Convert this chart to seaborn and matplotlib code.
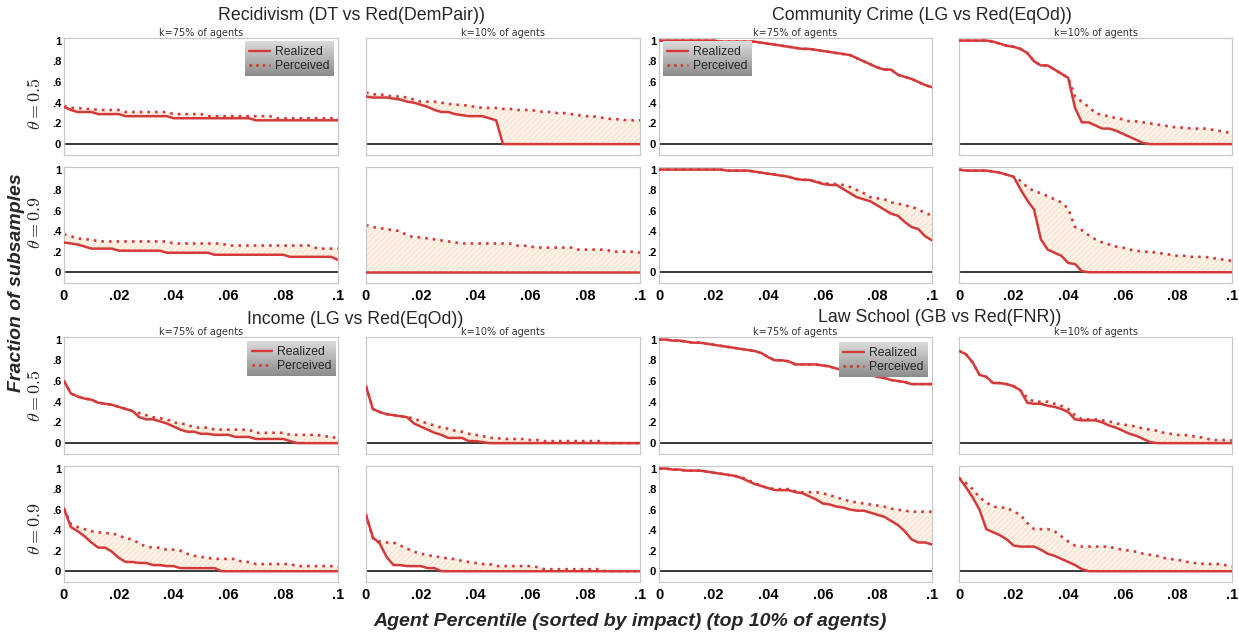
import numpy as np
import matplotlib
matplotlib.use("Agg")
import matplotlib.pyplot as plt
from matplotlib.lines import Line2D
import seaborn as sns

# ---------------------------------------------------------------- data
# agent percentile grid (top 10% of agents, sorted by impact)
agent_pct = np.linspace(0.0, 0.1, 41)

x_tick_values = [0, 0.02, 0.04, 0.06, 0.08, 0.1]
x_tick_labels = ["0", ".02", ".04", ".06", ".08", ".1"]
y_tick_values = [0, 0.2, 0.4, 0.6, 0.8, 1.0]
y_tick_labels = ["0", ".2", ".4", ".6", ".8", "1"]

dataset_titles = ["Recidivism (DT vs Red(DemPair))", "Community Crime (LG vs Red(EqOd))",
                  "Income (LG vs Red(EqOd))", "Law School (GB vs Red(FNR))"]
k_labels = ["k=75% of agents", "k=10% of agents"]
theta_labels = [r"$\theta = 0.5$", r"$\theta = 0.9$"]
series_labels = ["Realized", "Perceived"]

# Recidivism
rec_t05_k75_real = [0.36, 0.33, 0.31, 0.31, 0.31, 0.29, 0.29, 0.29, 0.29, 0.27,
                    0.27, 0.27, 0.27, 0.27, 0.27, 0.27, 0.25, 0.25, 0.25, 0.25,
                    0.25, 0.25, 0.25, 0.25, 0.25, 0.25, 0.25, 0.25, 0.23, 0.23,
                    0.23, 0.23, 0.23, 0.23, 0.23, 0.23, 0.23, 0.23, 0.23, 0.23,
                    0.23]
rec_t05_k75_perc = [0.37, 0.35, 0.35, 0.34, 0.34, 0.33, 0.33, 0.33, 0.33, 0.31,
                    0.31, 0.31, 0.31, 0.31, 0.31, 0.31, 0.29, 0.29, 0.29, 0.29,
                    0.29, 0.27, 0.27, 0.27, 0.27, 0.27, 0.27, 0.27, 0.27, 0.27,
                    0.27, 0.25, 0.25, 0.25, 0.25, 0.25, 0.25, 0.25, 0.25, 0.25,
                    0.25]
rec_t05_k10_real = [0.46, 0.45, 0.45, 0.45, 0.44, 0.43, 0.41, 0.40, 0.38, 0.36,
                    0.33, 0.31, 0.31, 0.29, 0.28, 0.27, 0.27, 0.27, 0.25, 0.23,
                    0.0, 0.0, 0.0, 0.0, 0.0, 0.0, 0.0, 0.0, 0.0, 0.0,
                    0.0, 0.0, 0.0, 0.0, 0.0, 0.0, 0.0, 0.0, 0.0, 0.0,
                    0.0]
rec_t05_k10_perc = [0.50, 0.48, 0.48, 0.47, 0.46, 0.46, 0.45, 0.43, 0.41, 0.41,
                    0.41, 0.40, 0.39, 0.38, 0.38, 0.37, 0.36, 0.35, 0.35, 0.35,
                    0.34, 0.34, 0.33, 0.33, 0.33, 0.32, 0.31, 0.31, 0.30, 0.30,
                    0.29, 0.28, 0.27, 0.27, 0.26, 0.25, 0.24, 0.24, 0.23, 0.23,
                    0.23]
rec_t09_k75_real = [0.29, 0.28, 0.27, 0.25, 0.23, 0.23, 0.23, 0.23, 0.21, 0.21,
                    0.21, 0.21, 0.21, 0.21, 0.21, 0.19, 0.19, 0.19, 0.19, 0.19,
                    0.19, 0.19, 0.17, 0.17, 0.17, 0.17, 0.17, 0.17, 0.17, 0.17,
                    0.17, 0.17, 0.17, 0.15, 0.15, 0.15, 0.15, 0.15, 0.15, 0.15,
                    0.12]
rec_t09_k75_perc = [0.37, 0.35, 0.33, 0.32, 0.32, 0.30, 0.30, 0.30, 0.30, 0.30,
                    0.30, 0.30, 0.30, 0.30, 0.30, 0.30, 0.28, 0.28, 0.28, 0.28,
                    0.28, 0.28, 0.28, 0.28, 0.26, 0.26, 0.26, 0.26, 0.26, 0.26,
                    0.26, 0.26, 0.26, 0.26, 0.26, 0.26, 0.26, 0.23, 0.23, 0.23,
                    0.23]
rec_t09_k10_real = [0.0, 0.0, 0.0, 0.0, 0.0, 0.0, 0.0, 0.0, 0.0, 0.0,
                    0.0, 0.0, 0.0, 0.0, 0.0, 0.0, 0.0, 0.0, 0.0, 0.0,
                    0.0, 0.0, 0.0, 0.0, 0.0, 0.0, 0.0, 0.0, 0.0, 0.0,
                    0.0, 0.0, 0.0, 0.0, 0.0, 0.0, 0.0, 0.0, 0.0, 0.0,
                    0.0]
rec_t09_k10_perc = [0.46, 0.44, 0.43, 0.42, 0.41, 0.40, 0.36, 0.34, 0.34, 0.33,
                    0.32, 0.31, 0.30, 0.29, 0.28, 0.28, 0.28, 0.28, 0.28, 0.28,
                    0.28, 0.28, 0.26, 0.26, 0.25, 0.24, 0.24, 0.24, 0.24, 0.24,
                    0.24, 0.22, 0.22, 0.22, 0.22, 0.22, 0.20, 0.20, 0.20, 0.20,
                    0.19]

# Community Crime
cc_t05_k75_real = [1.0, 1.0, 1.0, 1.0, 1.0, 1.0, 1.0, 1.0, 1.0, 0.99,
                   0.99, 0.99, 0.99, 0.99, 0.99, 0.98, 0.97, 0.96, 0.95, 0.94,
                   0.93, 0.92, 0.92, 0.91, 0.90, 0.89, 0.88, 0.87, 0.86, 0.83,
                   0.80, 0.77, 0.74, 0.72, 0.72, 0.67, 0.65, 0.63, 0.60, 0.57,
                   0.55]
cc_t05_k75_perc = [1.0, 1.0, 1.0, 1.0, 1.0, 1.0, 1.0, 1.0, 1.0, 0.99,
                   0.99, 0.99, 0.99, 0.99, 0.99, 0.98, 0.97, 0.96, 0.95, 0.94,
                   0.93, 0.92, 0.92, 0.91, 0.90, 0.89, 0.88, 0.87, 0.86, 0.83,
                   0.80, 0.77, 0.74, 0.72, 0.72, 0.67, 0.65, 0.63, 0.60, 0.57,
                   0.55]
cc_t05_k10_real = [1.0, 1.0, 1.0, 1.0, 1.0, 0.99, 0.97, 0.95, 0.94, 0.92,
                   0.88, 0.80, 0.76, 0.76, 0.72, 0.68, 0.64, 0.35, 0.21, 0.21,
                   0.18, 0.15, 0.15, 0.13, 0.10, 0.07, 0.04, 0.01, 0.0, 0.0,
                   0.0, 0.0, 0.0, 0.0, 0.0, 0.0, 0.0, 0.0, 0.0, 0.0,
                   0.0]
cc_t05_k10_perc = [1.0, 1.0, 1.0, 1.0, 1.0, 0.99, 0.97, 0.95, 0.94, 0.92,
                   0.88, 0.80, 0.76, 0.76, 0.72, 0.68, 0.64, 0.46, 0.41, 0.36,
                   0.30, 0.28, 0.27, 0.25, 0.24, 0.22, 0.22, 0.21, 0.20, 0.19,
                   0.18, 0.17, 0.16, 0.16, 0.15, 0.15, 0.15, 0.14, 0.13, 0.12,
                   0.10]
cc_t09_k75_real = [1.0, 1.0, 1.0, 1.0, 1.0, 1.0, 1.0, 1.0, 1.0, 1.0,
                   0.99, 0.99, 0.99, 0.99, 0.98, 0.97, 0.96, 0.95, 0.94, 0.93,
                   0.91, 0.90, 0.90, 0.88, 0.86, 0.85, 0.85, 0.81, 0.77, 0.73,
                   0.71, 0.69, 0.65, 0.61, 0.57, 0.55, 0.49, 0.44, 0.42, 0.35,
                   0.31]
cc_t09_k75_perc = [1.0, 1.0, 1.0, 1.0, 1.0, 1.0, 1.0, 1.0, 1.0, 1.0,
                   0.99, 0.99, 0.99, 0.99, 0.98, 0.97, 0.96, 0.95, 0.94, 0.93,
                   0.91, 0.90, 0.90, 0.88, 0.87, 0.86, 0.86, 0.85, 0.83, 0.80,
                   0.77, 0.73, 0.72, 0.71, 0.68, 0.67, 0.65, 0.64, 0.61, 0.58,
                   0.55]
cc_t09_k10_real = [1.0, 0.99, 0.99, 0.99, 0.99, 0.98, 0.97, 0.95, 0.93, 0.81,
                   0.70, 0.61, 0.32, 0.22, 0.19, 0.16, 0.09, 0.08, 0.01, 0.0,
                   0.0, 0.0, 0.0, 0.0, 0.0, 0.0, 0.0, 0.0, 0.0, 0.0,
                   0.0, 0.0, 0.0, 0.0, 0.0, 0.0, 0.0, 0.0, 0.0, 0.0,
                   0.0]
cc_t09_k10_perc = [1.0, 0.99, 0.99, 0.99, 0.99, 0.98, 0.97, 0.95, 0.93, 0.89,
                   0.83, 0.79, 0.77, 0.74, 0.71, 0.68, 0.62, 0.44, 0.41, 0.36,
                   0.32, 0.29, 0.27, 0.25, 0.24, 0.22, 0.21, 0.20, 0.20, 0.19,
                   0.18, 0.17, 0.16, 0.16, 0.15, 0.15, 0.15, 0.14, 0.13, 0.12,
                   0.11]

# Income
inc_t05_k75_real = [0.60, 0.48, 0.45, 0.43, 0.42, 0.39, 0.38, 0.37, 0.35, 0.33,
                    0.31, 0.25, 0.23, 0.23, 0.21, 0.19, 0.16, 0.13, 0.11, 0.11,
                    0.09, 0.09, 0.08, 0.08, 0.08, 0.06, 0.06, 0.06, 0.04, 0.04,
                    0.04, 0.04, 0.04, 0.02, 0.0, 0.0, 0.0, 0.0, 0.0, 0.0,
                    0.0]
inc_t05_k75_perc = [0.60, 0.48, 0.45, 0.43, 0.42, 0.39, 0.38, 0.37, 0.35, 0.33,
                    0.31, 0.29, 0.27, 0.25, 0.24, 0.23, 0.20, 0.19, 0.18, 0.15,
                    0.15, 0.15, 0.13, 0.13, 0.13, 0.13, 0.13, 0.13, 0.10, 0.10,
                    0.10, 0.10, 0.10, 0.08, 0.08, 0.08, 0.08, 0.08, 0.065, 0.065,
                    0.04]
inc_t05_k10_real = [0.55, 0.33, 0.30, 0.28, 0.27, 0.26, 0.25, 0.19, 0.16, 0.13,
                    0.10, 0.08, 0.05, 0.05, 0.05, 0.02, 0.02, 0.01, 0.0, 0.0,
                    0.0, 0.0, 0.0, 0.0, 0.0, 0.0, 0.0, 0.0, 0.0, 0.0,
                    0.0, 0.0, 0.0, 0.0, 0.0, 0.0, 0.0, 0.0, 0.0, 0.0,
                    0.0]
inc_t05_k10_perc = [0.55, 0.33, 0.30, 0.28, 0.27, 0.26, 0.25, 0.24, 0.21, 0.19,
                    0.17, 0.15, 0.14, 0.12, 0.11, 0.09, 0.08, 0.07, 0.05, 0.05,
                    0.04, 0.04, 0.04, 0.04, 0.03, 0.03, 0.02, 0.02, 0.02, 0.02,
                    0.02, 0.02, 0.02, 0.02, 0.02, 0.0, 0.0, 0.0, 0.0, 0.0,
                    0.0]
inc_t09_k75_real = [0.61, 0.43, 0.39, 0.34, 0.28, 0.23, 0.23, 0.19, 0.13, 0.09,
                    0.09, 0.08, 0.08, 0.06, 0.06, 0.05, 0.05, 0.03, 0.03, 0.03,
                    0.03, 0.03, 0.03, 0.0, 0.0, 0.0, 0.0, 0.0, 0.0, 0.0,
                    0.0, 0.0, 0.0, 0.0, 0.0, 0.0, 0.0, 0.0, 0.0, 0.0,
                    0.0]
inc_t09_k75_perc = [0.61, 0.46, 0.43, 0.41, 0.39, 0.38, 0.37, 0.37, 0.35, 0.32,
                    0.31, 0.27, 0.24, 0.23, 0.23, 0.21, 0.21, 0.20, 0.17, 0.15,
                    0.14, 0.13, 0.12, 0.12, 0.12, 0.12, 0.09, 0.09, 0.07, 0.07,
                    0.07, 0.07, 0.07, 0.07, 0.05, 0.05, 0.05, 0.05, 0.05, 0.05,
                    0.04]
inc_t09_k10_real = [0.55, 0.33, 0.27, 0.14, 0.06, 0.06, 0.05, 0.05, 0.05, 0.03,
                    0.03, 0.0, 0.0, 0.0, 0.0, 0.0, 0.0, 0.0, 0.0, 0.0,
                    0.0, 0.0, 0.0, 0.0, 0.0, 0.0, 0.0, 0.0, 0.0, 0.0,
                    0.0, 0.0, 0.0, 0.0, 0.0, 0.0, 0.0, 0.0, 0.0, 0.0,
                    0.0]
inc_t09_k10_perc = [0.55, 0.32, 0.29, 0.28, 0.28, 0.25, 0.22, 0.19, 0.17, 0.16,
                    0.14, 0.14, 0.12, 0.12, 0.10, 0.09, 0.08, 0.07, 0.07, 0.05,
                    0.05, 0.05, 0.05, 0.05, 0.05, 0.04, 0.02, 0.02, 0.02, 0.02,
                    0.02, 0.02, 0.02, 0.02, 0.02, 0.0, 0.0, 0.0, 0.0, 0.0,
                    0.0]

# Law School
law_t05_k75_real = [1.0, 1.0, 0.99, 0.99, 0.98, 0.97, 0.97, 0.96, 0.95, 0.94,
                    0.93, 0.92, 0.91, 0.90, 0.89, 0.87, 0.83, 0.80, 0.80, 0.79,
                    0.76, 0.76, 0.76, 0.76, 0.75, 0.74, 0.72, 0.71, 0.69, 0.68,
                    0.67, 0.66, 0.64, 0.63, 0.61, 0.60, 0.59, 0.57, 0.57, 0.57,
                    0.57]
law_t05_k75_perc = [1.0, 1.0, 0.99, 0.99, 0.98, 0.97, 0.97, 0.96, 0.95, 0.94,
                    0.93, 0.92, 0.91, 0.90, 0.89, 0.87, 0.83, 0.80, 0.80, 0.79,
                    0.76, 0.76, 0.76, 0.76, 0.75, 0.74, 0.72, 0.71, 0.69, 0.68,
                    0.67, 0.66, 0.64, 0.63, 0.61, 0.60, 0.59, 0.57, 0.57, 0.57,
                    0.57]
law_t05_k10_real = [0.89, 0.86, 0.78, 0.66, 0.64, 0.58, 0.58, 0.57, 0.55, 0.51,
                    0.39, 0.38, 0.38, 0.36, 0.35, 0.33, 0.30, 0.23, 0.22, 0.22,
                    0.22, 0.20, 0.17, 0.15, 0.12, 0.09, 0.07, 0.04, 0.01, 0.0,
                    0.0, 0.0, 0.0, 0.0, 0.0, 0.0, 0.0, 0.0, 0.0, 0.0,
                    0.0]
law_t05_k10_perc = [0.89, 0.86, 0.78, 0.66, 0.64, 0.58, 0.58, 0.57, 0.55, 0.51,
                    0.44, 0.40, 0.40, 0.40, 0.38, 0.36, 0.33, 0.27, 0.23, 0.23,
                    0.23, 0.22, 0.21, 0.19, 0.18, 0.17, 0.16, 0.14, 0.13, 0.12,
                    0.10, 0.09, 0.08, 0.08, 0.07, 0.06, 0.05, 0.03, 0.03, 0.03,
                    0.025]
law_t09_k75_real = [1.0, 1.0, 0.99, 0.99, 0.98, 0.98, 0.98, 0.97, 0.96, 0.95,
                    0.94, 0.93, 0.91, 0.88, 0.85, 0.83, 0.81, 0.79, 0.79, 0.79,
                    0.77, 0.76, 0.73, 0.70, 0.66, 0.65, 0.63, 0.62, 0.60, 0.59,
                    0.59, 0.57, 0.55, 0.53, 0.49, 0.45, 0.39, 0.31, 0.28, 0.28,
                    0.26]
law_t09_k75_perc = [1.0, 1.0, 0.99, 0.99, 0.98, 0.98, 0.98, 0.97, 0.96, 0.95,
                    0.94, 0.93, 0.92, 0.89, 0.86, 0.83, 0.81, 0.80, 0.80, 0.80,
                    0.78, 0.77, 0.77, 0.77, 0.76, 0.74, 0.72, 0.70, 0.68, 0.67,
                    0.66, 0.65, 0.64, 0.63, 0.61, 0.60, 0.59, 0.58, 0.58, 0.58,
                    0.58]
law_t09_k10_real = [0.91, 0.82, 0.72, 0.60, 0.41, 0.38, 0.35, 0.31, 0.25, 0.24,
                    0.24, 0.24, 0.21, 0.17, 0.15, 0.12, 0.09, 0.06, 0.02, 0.0,
                    0.0, 0.0, 0.0, 0.0, 0.0, 0.0, 0.0, 0.0, 0.0, 0.0,
                    0.0, 0.0, 0.0, 0.0, 0.0, 0.0, 0.0, 0.0, 0.0, 0.0,
                    0.0]
law_t09_k10_perc = [0.91, 0.86, 0.80, 0.72, 0.67, 0.63, 0.62, 0.62, 0.58, 0.55,
                    0.47, 0.41, 0.41, 0.41, 0.39, 0.34, 0.29, 0.25, 0.24, 0.24,
                    0.24, 0.24, 0.24, 0.22, 0.21, 0.20, 0.19, 0.17, 0.16, 0.15,
                    0.13, 0.12, 0.11, 0.10, 0.08, 0.08, 0.07, 0.07, 0.07, 0.06,
                    0.05]

# grid of panels: rows = (dataset pair, theta), columns = (dataset, k)
panel_grid = [
    [(rec_t05_k75_real, rec_t05_k75_perc), (rec_t05_k10_real, rec_t05_k10_perc),
     (cc_t05_k75_real, cc_t05_k75_perc), (cc_t05_k10_real, cc_t05_k10_perc)],
    [(rec_t09_k75_real, rec_t09_k75_perc), (rec_t09_k10_real, rec_t09_k10_perc),
     (cc_t09_k75_real, cc_t09_k75_perc), (cc_t09_k10_real, cc_t09_k10_perc)],
    [(inc_t05_k75_real, inc_t05_k75_perc), (inc_t05_k10_real, inc_t05_k10_perc),
     (law_t05_k75_real, law_t05_k75_perc), (law_t05_k10_real, law_t05_k10_perc)],
    [(inc_t09_k75_real, inc_t09_k75_perc), (inc_t09_k10_real, inc_t09_k10_perc),
     (law_t09_k75_real, law_t09_k75_perc), (law_t09_k10_real, law_t09_k10_perc)],
]

# ---------------------------------------------------------------- style
sns.set_theme(style="white")
plt.rcParams["font.family"] = ["Liberation Sans", "DejaVu Sans"]
plt.rcParams["mathtext.fontset"] = "cm"
plt.rcParams["hatch.linewidth"] = 0.6

RED = "#d43a3a"
ZERO = "#2a2a2a"
FILL = "#fdf3e8"
HATCH = "#f5dcc2"
SPINE = "#c8c8c8"

W, H = 1239, 637
fig = plt.figure(figsize=(W / 100, H / 100), dpi=100)
fig.patch.set_facecolor("white")


def fx(px):
    return px / W


def fy(py):
    return 1 - py / H


col_px = [(64, 338), (366, 640), (659, 932), (959, 1232)]
row_px = [(38, 155), (167, 283), (337, 454), (466, 582)]

# legend placement per panel (row, col): (loc, anchor in axes fraction)
legend_spots = {
    (0, 0): ("upper right", (0.985, 0.965)),
    (0, 2): ("upper left", (0.015, 0.965)),
    (2, 0): ("upper right", (0.993, 0.957)),
    (2, 2): ("upper right", (0.985, 0.95)),
}

legends = []
for r, (top, bot) in enumerate(row_px):
    for c, (left, right) in enumerate(col_px):
        real = np.asarray(panel_grid[r][c][0], dtype=float)
        perc = np.asarray(panel_grid[r][c][1], dtype=float)
        ax = fig.add_axes([fx(left), fy(bot), (right - left) / W, (bot - top) / H])

        ax.axhline(0, color=ZERO, lw=1.3, zorder=1)
        ax.fill_between(agent_pct, real, perc, where=perc >= real, interpolate=True,
                        facecolor=FILL, edgecolor=HATCH, hatch="//////",
                        linewidth=0, zorder=1.5)
        sns.lineplot(x=agent_pct, y=perc, ax=ax, color=RED, lw=1.9,
                     linestyle=(0, (1, 1.9)), estimator=None, legend=False,
                     zorder=2)
        sns.lineplot(x=agent_pct, y=real, ax=ax, color=RED, lw=1.8,
                     estimator=None, legend=False, zorder=3)

        ax.set_xlim(0, 0.1)
        ax.set_ylim(-0.105, 1.025)
        ax.set_xticks(x_tick_values)
        ax.set_yticks(y_tick_values)
        if r in (1, 3):
            ax.set_xticklabels(x_tick_labels, fontweight="bold", fontsize=10.5)
        else:
            ax.set_xticklabels([])
        if c in (0, 2):
            ax.set_yticklabels(y_tick_labels, fontweight="bold", fontsize=8)
        else:
            ax.set_yticklabels([])
        ax.set_xlabel("")
        ax.set_ylabel("")
        ax.tick_params(axis="both", direction="in", length=3, width=0.6,
                       color="#b0b0b0", labelcolor="black")
        ax.tick_params(axis="x", pad=4)
        ax.tick_params(axis="y", pad=2)
        for sp in ax.spines.values():
            sp.set_color(SPINE)
            sp.set_linewidth(0.9)

        if (r, c) in legend_spots:
            loc, anchor = legend_spots[(r, c)]
            handles = [Line2D([], [], color=RED, lw=1.7),
                       Line2D([], [], color=RED, lw=1.9, linestyle=(0, (1, 1.5)))]
            leg = ax.legend(handles, series_labels, loc=loc, bbox_to_anchor=anchor,
                            borderaxespad=0, frameon=True, fancybox=False,
                            prop={"family": "Liberation Sans", "size": 8.8},
                            handlelength=1.7, handletextpad=0.4,
                            labelspacing=0.15, borderpad=0.35)
            leg.get_frame().set_facecolor("none")
            leg.get_frame().set_edgecolor("none")
            legends.append((ax, leg))

# gray gradient behind each legend
fig.canvas.draw()
top_rgb = np.array([0.86, 0.86, 0.86])
bot_rgb = np.array([0.55, 0.55, 0.55])
t = np.linspace(0, 1, 64)[:, None, None]
gradient = top_rgb * (1 - t) + bot_rgb * t
gradient = np.repeat(gradient, 2, axis=1)
for ax, leg in legends:
    bb = leg.get_window_extent().transformed(ax.transAxes.inverted())
    ax.imshow(gradient, extent=(bb.x0, bb.x1, bb.y0, bb.y1), transform=ax.transAxes,
              aspect="auto", interpolation="bilinear", zorder=4.5)
    ax.set_xlim(0, 0.1)
    ax.set_ylim(-0.105, 1.025)

# dataset titles
title_pos = [(352, 15), (922, 15), (355, 320), (940, 318)]
for title, (px, py) in zip(dataset_titles, title_pos):
    fig.text(fx(px), fy(py), title, ha="center", va="center", fontsize=12.8,
             family="Liberation Sans")

# k subtitles above the first row of each block
for top_row, py in ((0, 33), (2, 332)):
    for c, (left, right) in enumerate(col_px):
        fig.text(fx((left + right) / 2), fy(py), k_labels[c % 2], ha="center",
                 va="center", fontsize=7, family="DejaVu Sans", color="#333333")

# theta labels on the far left
theta_y = [104, 222, 396, 528]
for r, py in enumerate(theta_y):
    fig.text(fx(36), fy(py), theta_labels[r % 2], rotation=90, ha="center",
             va="center", fontsize=13)

fig.text(fx(17), fy(283), "Fraction of subsamples", rotation=90, ha="center",
         va="center", fontsize=14, fontweight="bold", style="italic",
         family="Liberation Sans")
fig.text(fx(630), fy(621), "Agent Percentile (sorted by impact) (top 10% of agents)",
         ha="center", va="center", fontsize=14, fontweight="bold", style="italic",
         family="Liberation Sans")

fig.savefig("out.png", dpi=100, facecolor="white")
